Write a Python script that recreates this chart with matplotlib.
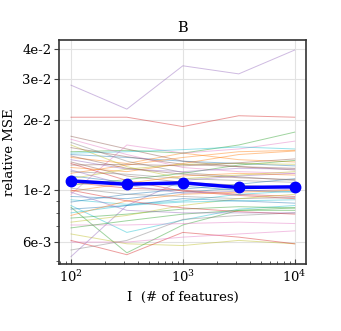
import matplotlib
matplotlib.use("Agg")
import matplotlib.pyplot as plt
import numpy as np
from matplotlib.ticker import FixedLocator, FixedFormatter, LogLocator, NullFormatter

# number of features (x axis)
n_features = [100, 316, 1000, 3162, 10000]

# relative MSE of each individual run, in units of 1e-3
runs = [
    [14.2, 13.8, 13.3, 13.0, 12.7],
    [13.8, 13.0, 14.4, 13.5, 13.2],
    [14.6, 14.8, 14.4, 15.6, 17.7],
    [20.5, 20.5, 18.7, 20.8, 20.5],
    [28.1, 22.2, 34.0, 31.4, 39.7],
    [17.0, 15.0, 13.3, 12.6, 12.2],
    [9.6, 15.6, 14.4, 15.0, 16.2],
    [16.0, 13.3, 11.9, 11.4, 11.0],
    [6.5, 5.9, 5.8, 6.1, 5.9],
    [8.6, 6.6, 7.45, 8.3, 8.6],
    [11.5, 10.8, 10.4, 10.0, 9.8],
    [12.5, 12.0, 13.0, 14.2, 14.7],
    [8.45, 5.4, 7.1, 8.2, 8.2],
    [6.1, 5.3, 6.6, 6.3, 5.9],
    [5.2, 8.6, 11.0, 11.5, 11.8],
    [13.2, 11.5, 10.8, 10.5, 10.2],
    [16.5, 14.2, 12.5, 12.0, 11.8],
    [5.55, 6.1, 7.5, 7.8, 8.0],
    [15.6, 12.6, 11.2, 11.6, 12.0],
    [14.4, 14.6, 14.9, 15.3, 15.0],
    [9.4, 9.2, 9.8, 10.2, 10.4],
    [11.8, 12.8, 13.8, 14.6, 14.8],
    [10.5, 11.1, 11.8, 12.8, 13.4],
    [10.8, 10.2, 10.0, 9.6, 9.4],
    [13.5, 12.3, 12.0, 12.4, 12.3],
    [15.2, 13.9, 12.9, 12.6, 12.4],
    [7.1, 7.1, 7.2, 7.3, 7.2],
    [12.0, 11.7, 11.2, 11.0, 10.8],
    [11.2, 12.3, 12.9, 13.0, 12.9],
    [9.1, 8.7, 9.0, 9.6, 9.9],
    [8.9, 9.6, 10.1, 10.6, 11.2],
    [9.9, 10.7, 11.5, 11.8, 11.6],
    [7.6, 7.9, 8.3, 8.5, 8.4],
    [13.0, 11.0, 9.9, 9.5, 9.2],
    [12.2, 10.5, 9.7, 9.9, 10.1],
    [14.0, 12.4, 11.7, 11.3, 11.1],
    [6.0, 6.0, 6.3, 6.5, 6.7],
    [10.2, 9.6, 9.4, 9.2, 9.3],
    [7.3, 7.8, 8.6, 9.2, 9.6],
    [8.0, 8.6, 8.9, 9.0, 9.1],
    [8.3, 8.6, 9.2, 9.0, 8.8],
    [7.8, 9.0, 9.6, 9.8, 10.0],
    [6.9, 7.4, 7.9, 8.2, 8.4],
    [10.0, 9.0, 8.4, 8.1, 7.9],
    [9.8, 8.2, 8.0, 8.0, 8.0],
    [12.8, 12.9, 12.7, 13.1, 13.6],
]

# average over runs, in units of 1e-3
mean_mse = [10.96, 10.6, 10.75, 10.27, 10.33]

y_ticks = [6e-3, 1e-2, 2e-2, 3e-2, 4e-2]
y_tick_labels = ["6e-3", "1e-2", "2e-2", "3e-2", "4e-2"]

plt.rcParams["font.family"] = ["DejaVu Serif"]
plt.rcParams["mathtext.fontset"] = "dejavuserif"
plt.rcParams["font.size"] = 9.5

fig, ax = plt.subplots(figsize=(3.41, 3.31), dpi=100)
fig.subplots_adjust(left=0.173, right=0.897, bottom=0.202, top=0.879)

x = np.array(n_features)
colors = plt.rcParams["axes.prop_cycle"].by_key()["color"]
for i, run in enumerate(runs):
    ax.plot(x, np.array(run) * 1e-3, color=colors[i % len(colors)], lw=0.7, alpha=0.45, zorder=2)

ax.plot(x, np.array(mean_mse) * 1e-3, color="blue", lw=2.5, marker="o", ms=7.5, zorder=5)

ax.set_xscale("log")
ax.set_yscale("log")
ax.set_xlim(10 ** 1.893, 10 ** 4.1)
ax.set_ylim(4.83e-3, 4.38e-2)

ax.yaxis.set_major_locator(FixedLocator(y_ticks))
ax.yaxis.set_major_formatter(FixedFormatter(y_tick_labels))
ax.yaxis.set_minor_locator(LogLocator(base=10, subs=np.arange(2, 10)))
ax.yaxis.set_minor_formatter(NullFormatter())

ax.tick_params(axis="y", which="both", direction="out", color="#444444", pad=2)
ax.tick_params(axis="x", which="both", direction="in", color="#444444")
ax.tick_params(which="major", length=3.5)
ax.tick_params(which="minor", length=2.5)

ax.grid(True, which="major", color="#e2e2e2", lw=0.8, zorder=0)
ax.set_axisbelow(True)
for spine in ax.spines.values():
    spine.set_linewidth(1.2)
    spine.set_color("#333333")

ax.set_title("B", fontsize=10.5)
ax.set_xlabel("I  (# of features)")
ax.set_ylabel("relative MSE")
ax.yaxis.set_label_coords(-0.175, 0.5)

fig.savefig("out.png", dpi=100)
